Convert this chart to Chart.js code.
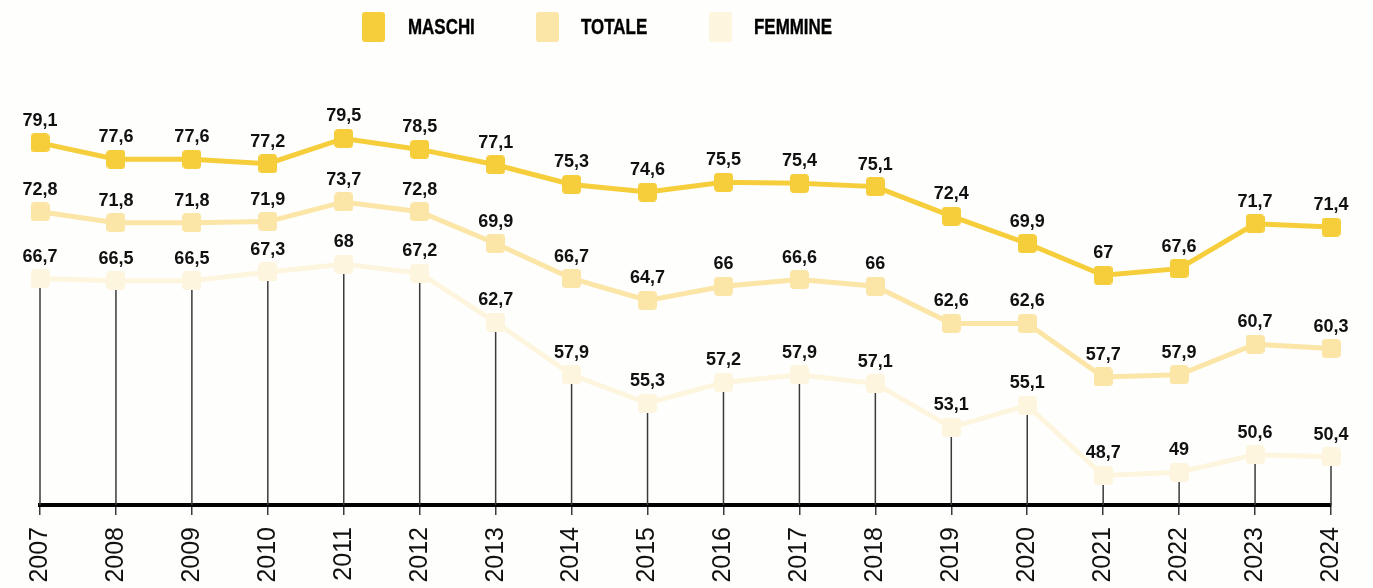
<!DOCTYPE html>
<html>
<head>
<meta charset="utf-8">
<script src="https://cdn.jsdelivr.net/npm/chart.js@4.4.1/dist/chart.umd.min.js"></script>
<style>
  html, body { margin: 0; padding: 0; background: #fefefd; }
  #wrap { position: relative; width: 1373px; height: 588px; }
  #legend { position: absolute; left: 0; top: 0; width: 1373px; height: 60px; }
  .lg-box { position: absolute; top: 12px; width: 23px; height: 30px; border-radius: 3px; }
  .lg-text { position: absolute; top: 12px; height: 30px; line-height: 30px; font-family: "Liberation Sans", Arial, sans-serif; font-weight: bold; font-size: 22px; color: #000; transform: scaleX(0.77); transform-origin: 0 50%; white-space: nowrap; -webkit-text-stroke: 0.4px #000; }
  canvas { position: absolute; left: 0; top: 0; }
</style>
</head>
<body>
<div id="wrap">
  <canvas id="chart" width="1373" height="588"></canvas>
  <div id="legend"></div>
</div>
<script>
const years = ['2007', '2008', '2009', '2010', '2011', '2012', '2013', '2014', '2015',
  '2016', '2017', '2018', '2019', '2020', '2021', '2022', '2023', '2024'];
const seriesNames = ['MASCHI', 'TOTALE', 'FEMMINE'];
const maschi = [79.1, 77.6, 77.6, 77.2, 79.5, 78.5, 77.1, 75.3, 74.6, 75.5, 75.4, 75.1, 72.4, 69.9, 67, 67.6, 71.7, 71.4];
const totale = [72.8, 71.8, 71.8, 71.9, 73.7, 72.8, 69.9, 66.7, 64.7, 66, 66.6, 66, 62.6, 62.6, 57.7, 57.9, 60.7, 60.3];
const femmine = [66.7, 66.5, 66.5, 67.3, 68, 67.2, 62.7, 57.9, 55.3, 57.2, 57.9, 57.1, 53.1, 55.1, 48.7, 49, 50.6, 50.4];

const colors = ['#f6ce3c', '#fbe5a7', '#fef5df'];

// rounded square marker
function makeMarker(color) {
  const c = document.createElement('canvas');
  c.width = 19; c.height = 19;
  const g = c.getContext('2d');
  g.fillStyle = color;
  g.beginPath();
  g.roundRect(0, 0, 19, 19, 4);
  g.fill();
  return c;
}

function fmt(v) {
  return String(v).replace('.', ',');
}

// legend (html)
const legendBoxX = [362, 536, 709];
const legendTextX = [408, 581, 754];
const legend = document.getElementById('legend');
seriesNames.forEach((name, i) => {
  const b = document.createElement('div');
  b.className = 'lg-box';
  b.style.left = legendBoxX[i] + 'px';
  b.style.background = colors[i];
  legend.appendChild(b);
  const t = document.createElement('div');
  t.className = 'lg-text';
  t.style.left = legendTextX[i] + 'px';
  t.textContent = name;
  legend.appendChild(t);
});

// vertical lines from the femmine points down to the axis
const dropLines = {
  id: 'dropLines',
  beforeDatasetsDraw(chart) {
    const ctx = chart.ctx;
    const meta = chart.getDatasetMeta(2);
    const bottom = chart.chartArea.bottom;
    ctx.save();
    ctx.strokeStyle = '#3a3a3a';
    ctx.lineWidth = 1.5;
    meta.data.forEach(pt => {
      ctx.beginPath();
      ctx.moveTo(pt.x, pt.y);
      ctx.lineTo(pt.x, bottom);
      ctx.stroke();
    });
    ctx.restore();
  }
};

const valueLabels = {
  id: 'valueLabels',
  afterDatasetsDraw(chart) {
    const ctx = chart.ctx;
    ctx.save();
    ctx.font = 'bold 18px "Liberation Sans", Arial, sans-serif';
    ctx.fillStyle = '#111';
    ctx.textAlign = 'center';
    ctx.textBaseline = 'alphabetic';
    chart.data.datasets.forEach((ds, i) => {
      chart.getDatasetMeta(i).data.forEach((pt, j) => {
        ctx.fillText(fmt(ds.data[j]), pt.x, pt.y - 17);
      });
    });
    ctx.restore();
  }
};

Chart.defaults.font.family = '"Liberation Sans", Arial, sans-serif';

new Chart(document.getElementById('chart'), {
  type: 'line',
  data: {
    labels: years,
    datasets: [
      { label: seriesNames[0], data: maschi, borderColor: colors[0], pointStyle: makeMarker(colors[0]) },
      { label: seriesNames[1], data: totale, borderColor: colors[1], pointStyle: makeMarker(colors[1]) },
      { label: seriesNames[2], data: femmine, borderColor: colors[2], pointStyle: makeMarker(colors[2]) }
    ].map((d, i) => Object.assign(d, {
      borderWidth: 5,
      tension: 0,
      clip: false,
      order: i
    }))
  },
  options: {
    responsive: false,
    animation: false,
    layout: { padding: { left: 40, right: 39, top: 133, bottom: 0 } },
    plugins: {
      legend: { display: false },
      tooltip: { enabled: false }
    },
    scales: {
      x: {
        offset: false,
        grid: { drawOnChartArea: false, drawTicks: true, tickLength: 10, color: '#3a3a3a', lineWidth: 1.5 },
        border: { display: true, color: '#000', width: 4 },
        ticks: { minRotation: 90, maxRotation: 90, padding: 12, color: '#111', font: { size: 25 } },
        afterFit(scale) { scale.height = 83; }
      },
      y: {
        display: false,
        min: 46,
        max: 80
      }
    }
  },
  plugins: [dropLines, valueLabels]
});
</script>
</body>
</html>
